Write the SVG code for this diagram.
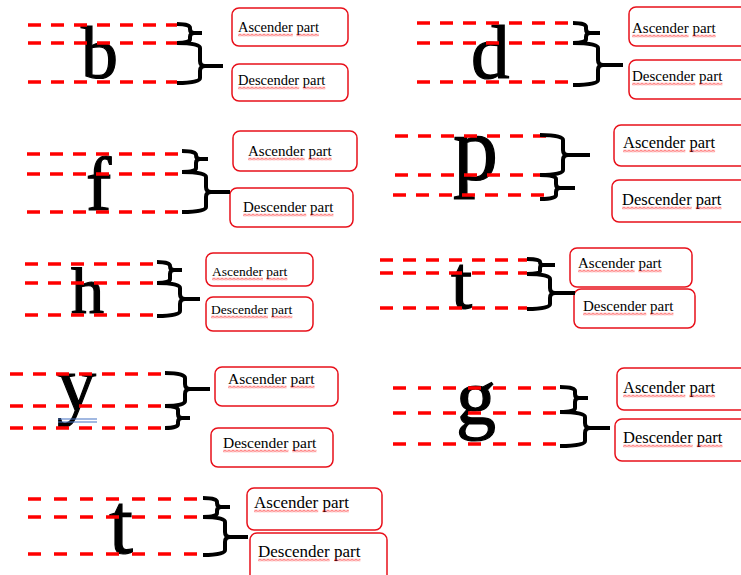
<svg xmlns="http://www.w3.org/2000/svg" width="741" height="575" viewBox="0 0 741 575">
<style>
.dash{stroke:#ff0000;stroke-width:3.5;stroke-dasharray:13 10;fill:none}
.box{fill:#fff;stroke:#e8101a;stroke-width:1.5}
.lbl{font-family:"Liberation Serif","Times New Roman",serif;fill:#000}
.ltr{font-family:"Liberation Serif","Times New Roman",serif;fill:#000;stroke:#000;stroke-width:1.2}
.brace{stroke:#000;stroke-width:4;fill:none;stroke-linejoin:round}
.wv{fill:url(#wv)}
</style>
<defs>
<pattern id="wv" patternUnits="userSpaceOnUse" width="4" height="3">
<path d="M0,2.5 L2,0.5 L4,2.5" stroke="#ff0000" stroke-width="1" fill="none"/>
</pattern>
</defs>
<rect width="741" height="575" fill="#fff"/>

<!-- Panel 1: b -->
<g id="letter-b">
<text class="ltr" x="81" y="78" font-size="74">b</text>
<g class="guides"><path class="dash" d="M28,25H177M28,43H177M28,82H177"/></g>
</g>
<g id="b-ascender">
<rect class="box" x="232" y="8" width="116" height="38" rx="7"/>
<text class="lbl" x="238" y="32" font-size="14.5">Ascender part</text>
<g transform="translate(238,33.5)"><rect class="wv" width="54.8" height="3"/><rect class="wv" x="58.4" width="22.5" height="3"/></g>
</g>
<g id="b-descender">
<rect class="box" x="232" y="64" width="116" height="37" rx="7"/>
<text class="lbl" x="238" y="85" font-size="14.5">Descender part</text>
<g transform="translate(238,86.5)"><rect class="wv" width="61.2" height="3"/><rect class="wv" x="64.8" width="22.5" height="3"/></g>
</g>

<!-- Panel 2: d -->
<g id="letter-d">
<text class="ltr" x="471" y="78" font-size="77">d</text>
<g class="guides"><path class="dash" d="M417,23H573M417,43H573M417,82H573"/></g>
</g>
<g id="d-ascender">
<rect class="box" x="629" y="7" width="120" height="39" rx="7"/>
<text class="lbl" x="632" y="33" font-size="15">Ascender part</text>
<g transform="translate(632,34.5)"><rect class="wv" width="56.6" height="3"/><rect class="wv" x="60.4" width="23.3" height="3"/></g>
</g>
<g id="d-descender">
<rect class="box" x="629" y="60" width="120" height="39" rx="7"/>
<text class="lbl" x="632" y="81" font-size="15">Descender part</text>
<g transform="translate(632,82.5)"><rect class="wv" width="63.3" height="3"/><rect class="wv" x="67.1" width="23.3" height="3"/></g>
</g>

<!-- Panel 3: f -->
<g id="letter-f">
<text class="ltr" x="86" y="210" font-size="76">f</text>
<g class="guides"><path class="dash" d="M27,154H182M27,174H182M27,212H182"/></g>
</g>
<g id="f-ascender">
<rect class="box" x="233" y="131" width="124" height="40" rx="7"/>
<text class="lbl" x="248" y="156" font-size="15">Ascender part</text>
<g transform="translate(248,157.5)"><rect class="wv" width="56.6" height="3"/><rect class="wv" x="60.4" width="23.3" height="3"/></g>
</g>
<g id="f-descender">
<rect class="box" x="230" y="188" width="123" height="39" rx="7"/>
<text class="lbl" x="243" y="212" font-size="15">Descender part</text>
<g transform="translate(243,213.5)"><rect class="wv" width="63.3" height="3"/><rect class="wv" x="67.1" width="23.3" height="3"/></g>
</g>

<!-- Panel 4: p -->
<g id="letter-p">
<text class="ltr" x="453" y="180" font-size="90">p</text>
<g class="guides"><path class="dash" d="M395,136H550M395,175H540M393,195H550"/></g>
</g>
<g id="p-ascender">
<rect class="box" x="614" y="125" width="135" height="41" rx="7"/>
<text class="lbl" x="623" y="148" font-size="16.5">Ascender part</text>
<g transform="translate(623,149.5)"><rect class="wv" width="62.3" height="3"/><rect class="wv" x="66.4" width="25.7" height="3"/></g>
</g>
<g id="p-descender">
<rect class="box" x="612" y="180" width="137" height="42" rx="7"/>
<text class="lbl" x="622" y="205" font-size="16.5">Descender part</text>
<g transform="translate(622,206.5)"><rect class="wv" width="69.6" height="3"/><rect class="wv" x="73.8" width="25.7" height="3"/></g>
</g>

<!-- Panel 5: h -->
<g id="letter-h">
<text class="ltr" x="71" y="313" font-size="66">h</text>
<g class="guides"><path class="dash" d="M25,264H157M25,283H157M25,315H157"/></g>
</g>
<g id="h-ascender">
<rect class="box" x="206" y="253" width="107" height="33" rx="7"/>
<text class="lbl" x="212" y="276" font-size="13.5">Ascender part</text>
<g transform="translate(212,277.5)"><rect class="wv" width="51" height="3"/><rect class="wv" x="54.4" width="21" height="3"/></g>
</g>
<g id="h-descender">
<rect class="box" x="206" y="297" width="107" height="34" rx="7"/>
<text class="lbl" x="211" y="314" font-size="13.5">Descender part</text>
<g transform="translate(211,315.5)"><rect class="wv" width="57" height="3"/><rect class="wv" x="60.3" width="21" height="3"/></g>
</g>

<!-- Panel 6: t -->
<g id="letter-t1">
<text class="ltr" x="451" y="308" font-size="76">t</text>
<g class="guides"><path class="dash" d="M380,260H527M380,273H527M380,308H527"/></g>
</g>
<g id="t1-ascender">
<rect class="box" x="570" y="248" width="122" height="39" rx="7"/>
<text class="lbl" x="578" y="268" font-size="15">Ascender part</text>
<g transform="translate(578,269.5)"><rect class="wv" width="56.6" height="3"/><rect class="wv" x="60.4" width="23.3" height="3"/></g>
</g>
<g id="t1-descender">
<rect class="box" x="574" y="289" width="121" height="39" rx="7"/>
<text class="lbl" x="583" y="311" font-size="15">Descender part</text>
<g transform="translate(583,312.5)"><rect class="wv" width="63.3" height="3"/><rect class="wv" x="67.1" width="23.3" height="3"/></g>
</g>

<!-- Panel 7: y -->
<g id="letter-y">
<text class="ltr" x="57" y="410" font-size="78">y</text>
<path d="M58,419H97M58,422H97" stroke="#4472c4" stroke-width="1.2" fill="none"/>
<g class="guides"><path class="dash" d="M10,374H165M10,406H165M10,428H165"/></g>
</g>
<g id="y-ascender">
<rect class="box" x="215" y="367" width="123" height="39" rx="7"/>
<text class="lbl" x="228" y="384" font-size="15.5">Ascender part</text>
<g transform="translate(228,385.5)"><rect class="wv" width="58.5" height="3"/><rect class="wv" x="62.4" width="24.1" height="3"/></g>
</g>
<g id="y-descender">
<rect class="box" x="211" y="428" width="122" height="39" rx="7"/>
<text class="lbl" x="223" y="448" font-size="15.5">Descender part</text>
<g transform="translate(223,449.5)"><rect class="wv" width="65.4" height="3"/><rect class="wv" x="69.3" width="24.1" height="3"/></g>
</g>

<!-- Panel 8: g -->
<g id="letter-g">
<text class="ltr" x="456" y="424" font-size="80">g</text>
<g class="guides"><path class="dash" style="stroke-dasharray:13 12" d="M393,388H560M393,413H560M393,444H560"/></g>
</g>
<g id="g-ascender">
<rect class="box" x="617" y="368" width="132" height="42" rx="7"/>
<text class="lbl" x="623" y="393" font-size="16.5">Ascender part</text>
<g transform="translate(623,394.5)"><rect class="wv" width="62.3" height="3"/><rect class="wv" x="66.4" width="25.7" height="3"/></g>
</g>
<g id="g-descender">
<rect class="box" x="615" y="419" width="134" height="42" rx="7"/>
<text class="lbl" x="623" y="443" font-size="16.5">Descender part</text>
<g transform="translate(623,444.5)"><rect class="wv" width="69.6" height="3"/><rect class="wv" x="73.8" width="25.7" height="3"/></g>
</g>

<!-- Panel 9: t -->
<g id="letter-t2">
<text class="ltr" x="109" y="553" font-size="86">t</text>
<g class="guides"><path class="dash" style="stroke-dasharray:13 13" d="M28,499H203M28,517H203M28,554H203"/></g>
</g>
<g id="t2-ascender">
<rect class="box" x="247" y="488" width="135" height="42" rx="7"/>
<text class="lbl" x="254" y="508" font-size="17">Ascender part</text>
<g transform="translate(254,509.5)"><rect class="wv" width="64.2" height="3"/><rect class="wv" x="68.4" width="26.4" height="3"/></g>
</g>
<g id="t2-descender">
<rect class="box" x="250" y="533" width="137" height="50" rx="7"/>
<text class="lbl" x="258" y="557" font-size="17">Descender part</text>
<g transform="translate(258,558.5)"><rect class="wv" width="71.7" height="3"/><rect class="wv" x="76" width="26.4" height="3"/></g>
</g>

<g id="connectors">
<path class="brace" d="M177,24 Q190,24 190,28 L190,29 Q190,33 194,33 L202,33 M194,33 Q190,33 190,37 L190,39 Q190,43 177,43 M177,43 Q200,43 200,48 L200,61 Q200,66 205,66 L223,66 M205,66 Q200,66 200,71 L200,78 Q200,83 177,83"/>
<path class="brace" d="M573,23 Q586,23 586,27 L586,29 Q586,33 590,33 L600,33 M590,33 Q586,33 586,37 L586,39 Q586,43 573,43 M573,43 Q598,43 598,48 L598,60 Q598,65 603,65 L623,65 M603,65 Q598,65 598,70 L598,80 Q598,85 573,85"/>
<path class="brace" d="M182,151 Q196,151 196,155 Q196,159 200,159 L208,159 M200,159 Q196,159 196,163 L196,168 Q196,172 182,172 M182,172 Q206,172 206,177 L206,187 Q206,192 211,192 L230,192 M211,192 Q206,192 206,197 L206,207 Q206,212 182,212"/>
<path class="brace" d="M540,135 Q563,135 563,140 L563,150 Q563,155 568,155 L590,155 M568,155 Q563,155 563,160 L563,170 Q563,175 540,175 M540,175 Q556,175 556,179 L556,184 Q556,188 560,188 L575,188 M560,188 Q556,188 556,192 L556,195 Q556,199 540,199"/>
<path class="brace" d="M157,262 Q170,262 170,266 Q170,270 174,270 L182,270 M174,270 Q170,270 170,274 L170,279 Q170,283 157,283 M157,283 Q180,283 180,288 L180,294 Q180,299 185,299 L200,299 M185,299 Q180,299 180,304 L180,311 Q180,316 157,316"/>
<path class="brace" d="M527,259 Q540,259 540,262 Q540,265 543,265 L555,265 M543,265 Q540,265 540,268 L540,271 Q540,274 527,274 M527,274 Q550,274 550,279 L550,288 Q550,293 555,293 L575,293 M555,293 Q550,293 550,298 L550,304 Q550,309 527,309"/>
<path class="brace" d="M165,373 Q185,373 185,378 L185,384 Q185,389 190,389 L210,389 M190,389 Q185,389 185,394 L185,401 Q185,406 165,406 M165,406 Q178,406 178,410 L178,414 Q178,418 182,418 L190,418 M182,418 Q178,418 178,422 L178,424 Q178,428 165,428"/>
<path class="brace" d="M560,387 Q575,387 575,391 L575,394 Q575,398 579,398 L588,398 M579,398 Q575,398 575,402 L575,408 Q575,412 560,412 M560,412 Q585,412 585,417 L585,423 Q585,428 590,428 L610,428 M590,428 Q585,428 585,433 L585,441 Q585,446 560,446"/>
<path class="brace" d="M203,498 Q217,498 217,502 L217,503 Q217,507 221,507 L230,507 M221,507 Q217,507 217,511 L217,513 Q217,517 203,517 M203,517 Q225,517 225,522 L225,532 Q225,537 230,537 L248,537 M230,537 Q225,537 225,542 L225,550 Q225,555 203,555"/>
</g>
</svg>
